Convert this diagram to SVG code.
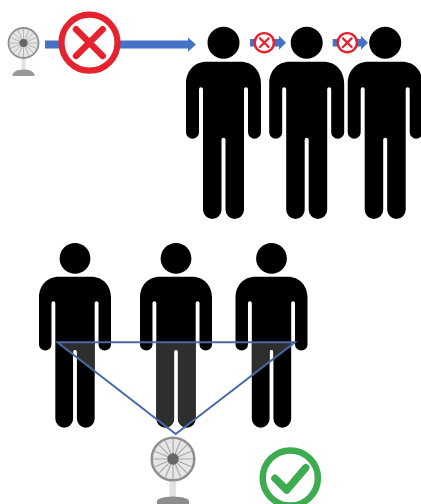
<svg xmlns="http://www.w3.org/2000/svg" xmlns:xlink="http://www.w3.org/1999/xlink" width="421" height="504" viewBox="0 0 421 504">
<style>
.arrow{fill:#4472c4}
.no{fill:#fff;stroke:#e5202e}
.nox{fill:none;stroke:#e5202e;stroke-linecap:round}
.tri{fill:none;stroke:#4a6aa6;stroke-width:2;stroke-linejoin:miter}
.leg{fill:#2f2f2f}
</style>
<defs>
<filter id="soft" x="-5%" y="-5%" width="110%" height="110%"><feGaussianBlur stdDeviation="0.5"/></filter>
<g id="person">
<circle cx="0" cy="-19" r="16"/>
<path d="M-17,0H17C29,0 37.5,9 37.5,22V70.5A6.5,6.5 0 0 1 24.5,70.5V27.5Q24.5,25.5 22.5,25.5Q20.5,25.5 20.5,27.5V148A9.25,9.25 0 0 1 2,148V78Q2,76 0,76Q-2,76 -2,78V148A9.25,9.25 0 0 1 -20.5,148V27.5Q-20.5,25.5 -22.5,25.5Q-24.5,25.5 -24.5,27.5V70.5A6.5,6.5 0 0 1 -37.5,70.5V22C-37.5,9 -29,0 -17,0Z"/>
</g>
<path id="legs" d="M-20.5,40H20.5V148A9.25,9.25 0 0 1 2,148V78Q2,76 0,76Q-2,76 -2,78V148A9.25,9.25 0 0 1 -20.5,148Z"/>
<clipPath id="tricl"><polygon points="57.3,342.3 295,342.3 175.7,434"/></clipPath>
<g id="fan">
<circle r="15" fill="#e6e6e6" stroke="#909090" stroke-width="1.8"/>
<g stroke="#a8a8a8" stroke-width=".8">
<path d="M0,-14V14M-14,0H14M-9.9,-9.9L9.9,9.9M-9.9,9.9L9.9,-9.9M-5.4,-12.9L5.4,12.9M-12.9,-5.4L12.9,5.4M5.4,-12.9L-5.4,12.9M12.9,-5.4L-12.9,5.4"/>
</g>
<circle r="4" fill="#666"/>
</g>
</defs>
<rect width="421" height="504" fill="#fff"/>
<g filter="url(#soft)">
<g id="connectors">
<path class="arrow" d="M45,40.5H188V37.5L196,44.5L188,51.7V48.5H45Z"/>
<path class="arrow" d="M250,39H279V35.7L286,42.7L279,49.7V46.4H250Z"/>
<path class="arrow" d="M332.7,39H361V35.7L368,42.7L361,49.7V46.4H332.7Z"/>
</g>
<g id="fan-top">
<path d="M21.5,58H25.5V70H21.5Z" fill="#e2e2e2"/>
<path d="M15,71.5Q17,69.5 23.5,69.5Q30,69.5 32,71.5L34.5,74V76H12.5V74Z" fill="#9a9a9a"/>
<use xlink:href="#fan" href="#fan" transform="translate(23.5,43)"/>
</g>
<g id="no-main">
<circle class="no" cx="89.5" cy="42.7" r="28" stroke-width="6.2"/>
<path class="nox" stroke-width="6.5" d="M76,29.3L102.7,56M102.7,29.3L76,56"/>
</g>
<g id="person-top-1"><use xlink:href="#person" href="#person" transform="translate(223.5,61.7)"/></g>
<g id="person-top-2"><use xlink:href="#person" href="#person" transform="translate(306.7,61.7)"/></g>
<g id="person-top-3"><use xlink:href="#person" href="#person" transform="translate(385.2,61.7)"/></g>
<g id="no-small-1">
<circle class="no" cx="264.3" cy="42.7" r="9.6" stroke-width="2.4"/>
<path class="nox" stroke-width="2.2" d="M260,38.4L268.6,47M268.6,38.4L260,47"/>
</g>
<g id="no-small-2">
<circle class="no" cx="347.3" cy="42.7" r="9.6" stroke-width="2.4"/>
<path class="nox" stroke-width="2.2" d="M343,38.4L351.6,47M351.6,38.4L343,47"/>
</g>
<g id="person-bottom-1"><use xlink:href="#person" href="#person" transform="translate(75,276.7) scale(.96)"/></g>
<g id="person-bottom-2"><use xlink:href="#person" href="#person" transform="translate(176,276.7) scale(.96)"/></g>
<g id="person-bottom-3"><use xlink:href="#person" href="#person" transform="translate(271.5,276.7) scale(.96)"/></g>
<g id="shade">
<g clip-path="url(#tricl)">
<use xlink:href="#legs" href="#legs" class="leg" transform="translate(75,276.7) scale(.96)"/>
<use xlink:href="#legs" href="#legs" class="leg" transform="translate(176,276.7) scale(.96)"/>
<use xlink:href="#legs" href="#legs" class="leg" transform="translate(271.5,276.7) scale(.96)"/>
</g>
</g>
<g id="triangle"><polygon class="tri" points="57.3,342.3 295,342.3 175.7,434"/></g>
<g id="fan-bottom">
<path d="M169.5,480H176V497H169.5Z" fill="#e2e2e2"/>
<path d="M157,504V501Q158,497 173,496.5Q188,497 189,501V504Z" fill="#8d8d8d"/>
<use xlink:href="#fan" href="#fan" transform="translate(173,459) scale(1.42)"/>
</g>
<g id="check">
<circle cx="290.3" cy="478" r="27.6" fill="#fff" stroke="#3dab4f" stroke-width="6.5"/>
<path d="M275,478.3L286.7,490L305.7,467.7" fill="none" stroke="#3dab4f" stroke-width="7.5" stroke-linecap="round" stroke-linejoin="round"/>
</g>
</g>
</svg>
